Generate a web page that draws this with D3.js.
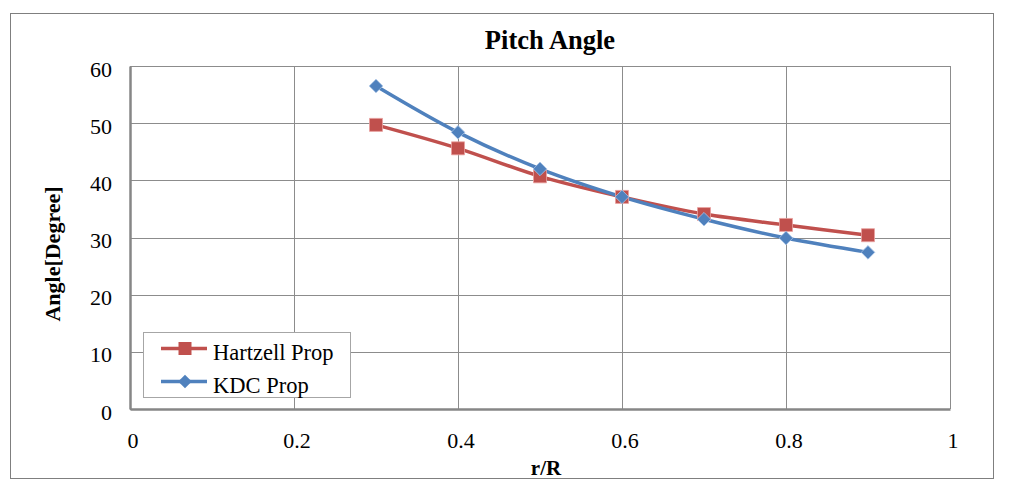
<!DOCTYPE html>
<html><head><meta charset="utf-8">
<script src="https://cdn.jsdelivr.net/npm/d3@7"></script>
<style>body{margin:0;background:#fff}svg{display:block}text{font-family:"Liberation Serif","Times New Roman",serif}</style>
</head><body>
<svg id="c" width="1010" height="487"></svg>
<script>
const xValues = [0.3, 0.4, 0.5, 0.6, 0.7, 0.8, 0.9];
const hartzell = [49.7, 45.6, 40.7, 37.1, 34.1, 32.2, 30.4];
const kdc = [56.5, 48.4, 42.0, 37.1, 33.2, 29.9, 27.4];
const xTicks = [0, 0.2, 0.4, 0.6, 0.8, 1];
const yTicks = [0, 10, 20, 30, 40, 50, 60];
const seriesNames = ["Hartzell Prop", "KDC Prop"];

const svg = d3.select("#c");
const L = 130, R = 950, T = 66, B = 409;
const x = d3.scaleLinear().domain([0, 1]).range([L, R]);
const y = d3.scaleLinear().domain([0, 60]).range([B, T]);
const FONT = '"Liberation Serif","Times New Roman",serif';

svg.append("rect").attr("x", 10.5).attr("y", 13.5).attr("width", 983).attr("height", 465)
  .attr("fill", "#fff").attr("stroke", "#7f7f7f").attr("stroke-width", 1);

const grid = svg.append("g").attr("stroke", "#8c8c8c").attr("stroke-width", 1);
xTicks.forEach(t => grid.append("line").attr("x1", Math.round(x(t)) + 0.5).attr("x2", Math.round(x(t)) + 0.5).attr("y1", T).attr("y2", B));
yTicks.forEach(t => grid.append("line").attr("x1", L).attr("x2", R).attr("y1", Math.round(y(t)) + 0.5).attr("y2", Math.round(y(t)) + 0.5));

// axes
const xa = svg.append("g").attr("transform", `translate(0,${B})`).call(d3.axisBottom(x).tickValues(xTicks).tickSize(0).tickPadding(23).tickFormat(d => d3.format("")(d)));
const ya = svg.append("g").attr("transform", `translate(${L},0)`).call(d3.axisLeft(y).tickValues(yTicks).tickSize(0).tickPadding(18));
[xa, ya].forEach(a => {
  a.select(".domain").attr("stroke", "#868686").attr("stroke-width", 2.5);
  a.selectAll("text").attr("font-size", 22).attr("fill", "#000").attr("font-family", FONT);
});
xa.selectAll("text").attr("dx", 2.5);
ya.selectAll("text").attr("dy", "0.46em");

const colors = ["#C0504D", "#4F81BD"];
const data = [hartzell, kdc];
const line = d3.line().x((d, i) => x(xValues[i])).y(d => y(d)).curve(d3.curveCatmullRom.alpha(0.5));

data.forEach((s, k) => {
  svg.append("path").attr("d", line(s)).attr("fill", "none").attr("stroke", colors[k]).attr("stroke-width", 3.5);
});
const sq = d3.symbol().type(d3.symbolSquare).size(169);
const dia = "M0,-6.8L6.8,0L0,6.8L-6.8,0Z";
data.forEach((s, k) => {
  svg.append("g").selectAll("path").data(s).join("path")
    .attr("transform", (d, i) => `translate(${x(xValues[i])},${y(d)})`)
    .attr("d", k === 0 ? sq : dia)
    .attr("fill", colors[k]).attr("stroke", k === 0 ? "#e8a09e" : "#a9c4e6").attr("stroke-width", 0.8);
});

// legend
const lg = svg.append("g");
lg.append("rect").attr("x", 143.5).attr("y", 332.5).attr("width", 207).attr("height", 65).attr("fill", "#fff").attr("stroke", "#a6a6a6");
seriesNames.forEach((n, k) => {
  const yy = 348.5 + k * 33;
  lg.append("line").attr("x1", 161).attr("x2", 207).attr("y1", yy).attr("y2", yy).attr("stroke", colors[k]).attr("stroke-width", 3.5);
  lg.append("path").attr("transform", `translate(185,${yy})`).attr("d", k === 0 ? sq : dia).attr("fill", colors[k]);
  lg.append("text").attr("x", 213).attr("y", yy + 11.5).attr("font-size", 22.5).text(n);
});

svg.append("text").attr("x", 550).attr("y", 49).attr("text-anchor", "middle").attr("font-size", 26.5).attr("font-weight", "bold").text("Pitch Angle");
svg.append("text").attr("x", 546).attr("y", 475).attr("text-anchor", "middle").attr("font-size", 21).attr("font-weight", "bold").text("r/R");
svg.append("text").attr("transform", "translate(60,254) rotate(-90)").attr("text-anchor", "middle").attr("font-size", 22).attr("font-weight", "bold").text("Angle[Degree]");
</script>
</body></html>
